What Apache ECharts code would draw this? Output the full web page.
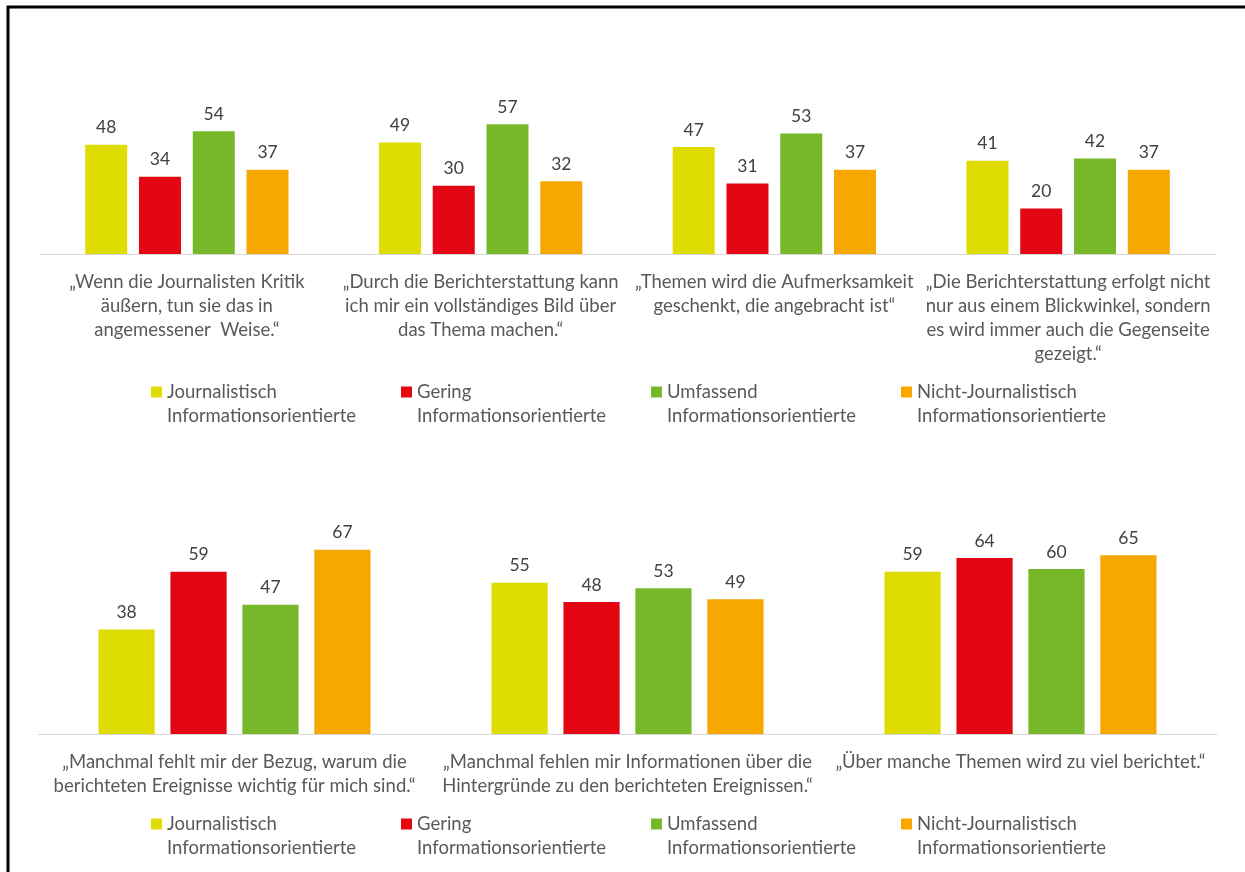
<!DOCTYPE html>
<html>
<head>
<meta charset="utf-8">
<script src="https://cdn.jsdelivr.net/npm/echarts@6/dist/echarts.min.js"></script>
<style>
html,body{margin:0;padding:0;background:#fff;}
#chart{width:1245px;height:872px;}
</style>
</head>
<body>
<div id="chart"></div>
<script>
// ---- data ----
const seriesNames = [
  'Journalistisch\nInformationsorientierte',
  'Gering\nInformationsorientierte',
  'Umfassend\nInformationsorientierte',
  'Nicht-Journalistisch\nInformationsorientierte'
];
const seriesColors = ['#dedc00', '#e30613', '#77b82b', '#f6a800'];

const topCategories = [
  '„Wenn die Journalisten Kritik\näußern, tun sie das in\nangemessener  Weise.“',
  '„Durch die Berichterstattung kann\nich mir ein vollständiges Bild über\ndas Thema machen.“',
  '„Themen wird die Aufmerksamkeit\ngeschenkt, die angebracht ist“',
  '„Die Berichterstattung erfolgt nicht\nnur aus einem Blickwinkel, sondern\nes wird immer auch die Gegenseite\ngezeigt.“'
];
const topJournalistisch = [48, 49, 47, 41];
const topGering = [34, 30, 31, 20];
const topUmfassend = [54, 57, 53, 42];
const topNichtJournalistisch = [37, 32, 37, 37];

const bottomCategories = [
  '„Manchmal fehlt mir der Bezug, warum die\nberichteten Ereignisse wichtig für mich sind.“',
  '„Manchmal fehlen mir Informationen über die\nHintergründe zu den berichteten Ereignissen.“',
  '„Über manche Themen wird zu viel berichtet.“'
];
const bottomJournalistisch = [38, 55, 59];
const bottomGering = [59, 48, 64];
const bottomUmfassend = [47, 53, 60];
const bottomNichtJournalistisch = [67, 49, 65];

const topValues = [topJournalistisch, topGering, topUmfassend, topNichtJournalistisch];
const bottomValues = [bottomJournalistisch, bottomGering, bottomUmfassend, bottomNichtJournalistisch];

// ---- chart ----
const FONT = 'Lato, "Open Sans", sans-serif';
const TEXT_SIZE = 18.5;
const chart = echarts.init(document.getElementById('chart'), null, {renderer: 'canvas'});

function makeSeries(values, axisIndex) {
  return values.map((vals, i) => ({
    name: seriesNames[i],
    type: 'bar',
    xAxisIndex: axisIndex,
    yAxisIndex: axisIndex,
    data: vals,
    barWidth: '14.3%',
    barGap: '28%',
    itemStyle: {color: seriesColors[i]},
    label: {
      show: true,
      position: 'top',
      distance: 8,
      color: '#404040',
      fontSize: 17.5,
      fontFamily: FONT
    },
    emphasis: {disabled: true},
    animation: false
  }));
}

function makeXAxis(cats, gridIndex) {
  return {
    type: 'category',
    gridIndex: gridIndex,
    data: cats,
    axisLine: {show: true, lineStyle: {color: '#d9d9d9', width: 1}},
    axisTick: {show: false},
    axisLabel: {
      interval: 0,
      color: '#595959',
      fontSize: TEXT_SIZE,
      lineHeight: 24,
      fontFamily: FONT,
      margin: 16,
      align: 'center'
    }
  };
}

function makeYAxis(max, gridIndex) {
  return {
    type: 'value',
    gridIndex: gridIndex,
    min: 0,
    max: max,
    interval: 10,
    show: false,
    splitLine: {show: false}
  };
}

function makeLegend(top) {
  return {
    top: top,
    left: 151,
    padding: 0,
    orient: 'horizontal',
    itemWidth: 11,
    itemHeight: 11,
    itemGap: 4,
    icon: 'rect',
    selectedMode: false,
    data: seriesNames,
    // leading blank line so the marker sits beside the first line of the name
    formatter: name => ' \n' + name,
    textStyle: {
      color: '#595959',
      fontSize: TEXT_SIZE,
      lineHeight: 24,
      fontFamily: FONT,
      width: 230
    }
  };
}

const option = {
  backgroundColor: '#ffffff',
  animation: false,
  grid: [
    {left: 40, right: 30, top: 117.5, height: 136.5},
    {left: 38, right: 28, top: 514, height: 220}
  ],
  xAxis: [makeXAxis(topCategories, 0), makeXAxis(bottomCategories, 1)],
  yAxis: [makeYAxis(60, 0), makeYAxis(80, 1)],
  legend: [makeLegend(356), makeLegend(788)],
  series: [...makeSeries(topValues, 0), ...makeSeries(bottomValues, 1)],
  graphic: [{
    type: 'polyline',
    shape: {points: [[8, 872], [8, 7], [1245, 7]]},
    style: {stroke: '#000000', lineWidth: 3, fill: null},
    silent: true
  }]
};
chart.setOption(option);
</script>
</body>
</html>
